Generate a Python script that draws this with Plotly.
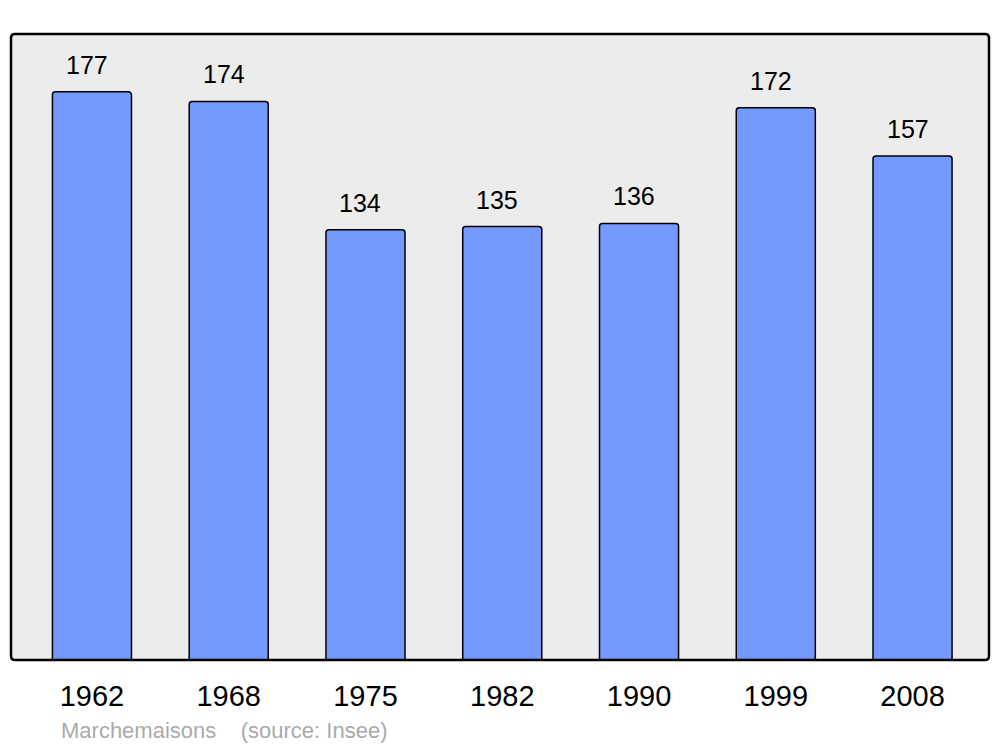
import plotly.graph_objects as go

years = ["1962", "1968", "1975", "1982", "1990", "1999", "2008"]
population = [177, 174, 134, 135, 136, 172, 157]
footer_name = "Marchemaisons"
footer_source = "(source: Insee)"

W, H = 1000, 747
ml, mr, mt, mb = 11, 11, 34, 87
FONT = "Liberation Sans, Arial, sans-serif"

fig = go.Figure()
fig.add_trace(go.Bar(
    x=years, y=population,
    width=0.578,
    marker=dict(color="#7499ff", line=dict(color="black", width=1.5), cornerradius=3),
    hoverinfo="x+y",
))

for i, v in enumerate(population):
    fig.add_annotation(x=i, y=v, xref="x", yref="y", text=str(v), showarrow=False,
                       yanchor="middle", yshift=27, xshift=-5,
                       font=dict(family=FONT, size=25, color="black"))

# rounded border of plot area
pw, ph = W - ml - mr, H - mt - mb
rx, ry = 4 / pw, 4 / ph
path = (f"M {rx} 0 L {1-rx} 0 Q 1 0 1 {ry} L 1 {1-ry} Q 1 1 {1-rx} 1 "
        f"L {rx} 1 Q 0 1 0 {1-ry} L 0 {ry} Q 0 0 {rx} 0 Z")
fig.add_shape(type="path", path=path, xref="paper", yref="paper",
              line=dict(color="black", width=2.5), layer="above")

fig.add_annotation(
    x=(59 - ml) / pw, xref="paper", xanchor="left",
    y=-(730 - (H - mb)) / ph, yref="paper", yanchor="middle",
    text=f"{footer_name}&nbsp;&nbsp;&nbsp;&nbsp;{footer_source}",
    showarrow=False,
    font=dict(family=FONT, size=22, color="#aaaaaa"),
)

fig.update_layout(
    width=W, height=H,
    margin=dict(l=ml, r=mr, t=mt, b=mb),
    paper_bgcolor="white",
    plot_bgcolor="#ececec",
    showlegend=False,
    xaxis=dict(type="category", range=[-0.592, 6.559], showgrid=False, zeroline=False,
               showline=False, ticks="", ticklabelstandoff=16,
               tickfont=dict(family=FONT, size=29, color="black")),
    yaxis=dict(range=[0, 195], showgrid=False, zeroline=False, showticklabels=False,
               showline=False, ticks=""),
)

fig.write_html("out.html", config={"displayModeBar": False},
               post_script="document.body.style.margin='0';document.body.style.overflow='hidden';")
